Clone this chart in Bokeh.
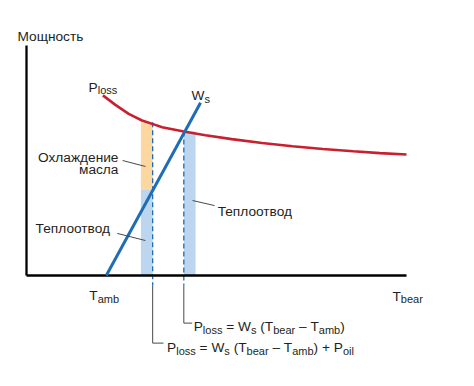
from bokeh.plotting import figure
from bokeh.models import Range1d, ColumnDataSource
from bokeh.embed import file_html
from bokeh.resources import INLINE
from bokeh.core.properties import value

# ---------------- data (conceptual units: temperature on x, power on y) ----------------
T_MAX = 100.0          # T_bear end of axis
P_MAX = 100.0          # top of power axis
T_AMB = 21.0           # ambient temperature
T_OIL = 33.2           # bearing temperature with oil cooling
T_EQ = 41.4            # bearing temperature without oil cooling
BAR_W = 3.1

ploss_T = [20.1, 23.4, 26.9, 30.4, 33.5, 35.7, 41.4, 47.1, 54.0, 62.0, 70.0, 78.0, 86.0, 93.0, 100.0]
ploss_P = [78.3, 74.2, 70.3, 67.4, 65.7, 64.5, 62.6, 61.0, 59.3, 57.6, 56.2, 55.0, 54.0, 53.2, 52.6]

ws_T = [T_AMB, 45.8]
ws_P = [0.0, 75.1]

# stacked bar at T_OIL: heat removal (blue) + oil cooling (orange)
oil_bar_removal = 37.5
oil_bar_top = 66.6
# bar at T_EQ: heat removal only
eq_bar_top = 62.6

# ---------------- layout helpers ----------------
KX, KY = 3.8, 2.3                 # px per unit
W_PX, H_PX = 458, 370
OX, OY = 26.0, 275.0              # origin in canvas px
FONT = "Liberation Sans"
MAIN, SUB = 13.7, 11.0
INK = "#231f20"
RED = "#c8202f"
BLUE = "#1f6db5"
GRAY = "#4a4a4a"

p = figure(width=W_PX, height=H_PX, output_backend="svg", toolbar_location=None,
           x_axis_type=None, y_axis_type=None, min_border=0,
           x_range=Range1d(-OX / KX, (W_PX - OX) / KX),
           y_range=Range1d(-(H_PX - OY) / KY, OY / KY))
p.grid.visible = False
p.outline_line_color = None
p.background_fill_color = "white"
p.border_fill_color = "white"

# bars
p.vbar(x=[T_OIL - BAR_W / 2], bottom=[0], top=[oil_bar_removal], width=BAR_W,
       fill_color="#bcd6f0", line_color=None)
p.vbar(x=[T_OIL - BAR_W / 2], bottom=[oil_bar_removal], top=[oil_bar_top], width=BAR_W,
       fill_color="#fcd79f", line_color=None)
p.vbar(x=[T_EQ + BAR_W / 2], bottom=[0], top=[eq_bar_top], width=BAR_W,
       fill_color="#bcd6f0", line_color=None)

# dashed verticals
below = -4.5
p.segment(x0=[T_OIL, T_EQ], y0=[oil_bar_top, eq_bar_top], x1=[T_OIL, T_EQ], y1=[below, below],
          line_color=BLUE, line_width=1.3, line_dash="5 3")

# gray brackets to formulas
f1_y, f2_y = -20.7, -29.4
p.multi_line(xs=[[T_EQ, T_EQ, T_EQ + 2.2], [T_OIL, T_OIL, T_OIL + 2.85]],
             ys=[[below, f1_y, f1_y], [below, f2_y, f2_y]],
             line_color=GRAY, line_width=1)

# axes
p.line([0, 0], [0, P_MAX], line_color="black", line_width=2.3)
p.line([0, T_MAX], [0, 0], line_color="black", line_width=2.6)

# curves
p.line(ploss_T, ploss_P, line_color=RED, line_width=2.6)
p.line(ws_T, ws_P, line_color=BLUE, line_width=3)

# leader lines
p.multi_line(xs=[[25.3, 31.3], [23.9, 31.3], [43.7, 49.5]],
             ys=[[50.0, 47.4], [18.3, 15.2], [32.6, 30.4]],
             line_color=GRAY, line_width=1)

# ---------------- texts ----------------
ARIAL = {' ': 278, '(': 333, ')': 333, '+': 584, '=': 584, '\u2013': 556, 'P': 667, 'T': 611,
         'W': 944, 'a': 556, 'b': 556, 'e': 556, 'i': 222, 'l': 222, 'm': 833, 'o': 556,
         'r': 333, 's': 500}

main_src = dict(x=[], y=[], t=[])
sub_src = dict(x=[], y=[], t=[])


def adv(s, size):
    return sum(ARIAL[c] for c in s) / 1000.0 * size


def rich(x, y, segs):
    cur = 0.0
    for t, is_sub in segs:
        size = SUB if is_sub else MAIN
        d = sub_src if is_sub else main_src
        stripped = t.lstrip(" ")
        cur += adv(t[:len(t) - len(stripped)], size)
        # split at inner spaces so that no text starts with a blank
        parts = stripped.split(" ")
        for k, part in enumerate(parts):
            if k > 0:
                cur += adv(" ", size)
            if part:
                d["x"].append(x + cur / KX)
                d["y"].append(y - (3.0 if is_sub else 0.0) / KY)
                d["t"].append(part)
                cur += adv(part, size)


rich(ploss_T[0] - 14.3 / KX, ploss_P[0] + 8 / KY, [("P", False), ("loss", True)])
rich(ws_T[1] - 9 / KX, ws_P[1] + 7 / KY, [("W", False), ("s", True)])
rich(T_AMB - 17 / KX, -8.7, [("T", False), ("amb", True)])
rich(T_MAX - 14 / KX, -9.1, [("T", False), ("bear", True)])
rich(44.0, -22.2, [("P", False), ("loss", True), (" = W", False), ("s", True), (" (T", False),
                   ("bear", True), (" \u2013 T", False), ("amb", True), (")", False)])
rich(37.0, -31.5, [("P", False), ("loss", True), (" = W", False), ("s", True), (" (T", False),
                   ("bear", True), (" \u2013 T", False), ("amb", True), (") + P", False), ("oil", True)])

p.text(x="x", y="y", text="t", source=ColumnDataSource(main_src), text_font=value(FONT),
       text_font_size=f"{MAIN}px", text_color=INK, text_baseline="alphabetic", text_align="left")
p.text(x="x", y="y", text="t", source=ColumnDataSource(sub_src), text_font=value(FONT),
       text_font_size=f"{SUB}px", text_color=INK, text_baseline="alphabetic", text_align="left")

# plain labels
p.text(x=[-9 / KX, 2.4, 50.3], y=[P_MAX + 9 / KY, 20.4, 27.8],
       text=["Мощность", "Теплоотвод", "Теплоотвод"], text_font=value(FONT),
       text_font_size=f"{MAIN}px", text_color=INK, text_baseline="alphabetic", text_align="left")
p.text(x=[24.2, 24.2], y=[51.3, 46.1], text=["Охлаждение", "масла"], text_font=value(FONT),
       text_font_size=f"{MAIN}px", text_color=INK, text_baseline="alphabetic", text_align="right")

open("out.html", "w").write(file_html(p, INLINE))
